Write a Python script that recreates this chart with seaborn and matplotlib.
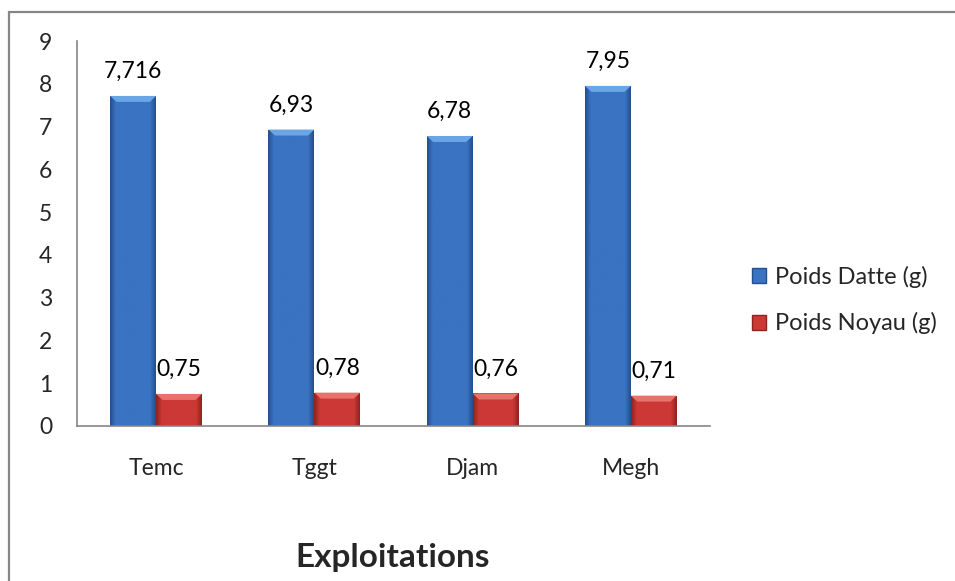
import matplotlib
matplotlib.use("Agg")
import matplotlib.pyplot as plt
from matplotlib.patches import Rectangle, Patch, Polygon
from matplotlib.colors import to_rgb
import numpy as np
import pandas as pd
import seaborn as sns

# Data
exploitations = ["Temc", "Tggt", "Djam", "Megh"]
poids_datte = [7.716, 6.93, 6.78, 7.95]
poids_noyau = [0.75, 0.78, 0.76, 0.71]
series = ["Poids Datte (g)", "Poids Noyau (g)"]
y_ticks = list(range(0, 10))

df = pd.DataFrame({
    "Exploitation": exploitations * 2,
    "Poids": poids_datte + poids_noyau,
    "Serie": [series[0]] * 4 + [series[1]] * 4,
})

sns.set_theme(style="white")
plt.rcParams["font.family"] = ["Lato", "DejaVu Sans"]

fig = plt.figure(figsize=(9.55, 5.81), dpi=100)
ax = fig.add_axes([77 / 955, 155 / 581, 633 / 955, 385 / 581])

palette = {series[0]: "#3A73C2", series[1]: "#CC3835"}
darks = {series[0]: "#244F8E", series[1]: "#8F2220"}
lights = {series[0]: "#6AA6E6", series[1]: "#E8716B"}

sns.barplot(data=df, x="Exploitation", y="Poids", hue="Serie", order=exploitations,
            hue_order=series, palette=palette, saturation=1, width=0.58, gap=0,
            legend=False, ax=ax, errorbar=None)


def shade_bar(bar, base, dark, light):
    """Bevelled look: darker side edges and a light strip on top."""
    x0, w, h = bar.get_x(), bar.get_width(), bar.get_height()
    b, d = np.array(to_rgb(base)), np.array(to_rgb(dark))
    t = np.linspace(0, 1, 64)
    prof = np.clip(np.minimum(t, 1 - t) / 0.12, 0, 1)
    cols = d[None, :] + (b - d)[None, :] * prof[:, None]
    img = cols[None, :, :]
    im = ax.imshow(img, extent=(x0, x0 + w, 0, h), aspect="auto", zorder=2.1,
                   interpolation="bilinear")
    im.set_clip_path(bar)
    bh = min(0.14, h * 0.2)
    bw = w * 0.14
    top = Polygon([(x0, h), (x0 + w, h), (x0 + w - bw, h - bh), (x0 + bw, h - bh)],
                  closed=True, facecolor=light, edgecolor="none", zorder=2.2)
    ax.add_patch(top)


for container, name in zip(ax.containers, series):
    for bar in container:
        bar.set_edgecolor("none")
        shade_bar(bar, palette[name], darks[name], lights[name])
    ax.bar_label(container, labels=[f"{v:g}".replace(".", ",") for v in container.datavalues],
                 padding=10, fontsize=16.5, color="#000000")

ax.set_xlim(-0.5, 3.5)
ax.set_ylim(0, 9)
ax.set_yticks(y_ticks)
ax.set_yticklabels([str(t) for t in y_ticks], fontsize=16.5)
ax.set_xticks(range(len(exploitations)))
ax.set_xticklabels(exploitations, fontsize=16.5)
ax.set_xticks(np.arange(-0.5, 4, 1), minor=True)
ax.tick_params(axis="x", which="major", length=0, pad=23)
ax.tick_params(axis="x", which="minor", length=6, width=1.2, color="#868686", direction="out")
ax.tick_params(axis="y", which="major", length=6, width=1.2, color="#868686", direction="out", pad=12)
ax.set_xlabel("")
ax.set_ylabel("")

for side in ["top", "right"]:
    ax.spines[side].set_visible(False)
for side in ["left", "bottom"]:
    ax.spines[side].set_color("#868686")
    ax.spines[side].set_linewidth(1.2)

fig.text(393 / 955, 1 - 557 / 581, "Exploitations", ha="center", va="center",
         fontsize=24, fontweight="bold")

handles = [Patch(facecolor=palette[s], edgecolor=darks[s], label=s) for s in series]
fig.legend(handles=handles, loc="center left", bbox_to_anchor=(752 / 955, 1 - 300 / 581),
           frameon=False, fontsize=17, handlelength=0.6, handleheight=0.6,
           handletextpad=0.38, labelspacing=1.05, borderpad=0, borderaxespad=0)

# outer chart frame
fig.patches.append(Rectangle((9 / 955, -0.1), 1.2, 1.1 - 12 / 581,
                             transform=fig.transFigure, fill=False,
                             edgecolor="#868686", linewidth=1.6))

fig.savefig("out.png", dpi=100)
